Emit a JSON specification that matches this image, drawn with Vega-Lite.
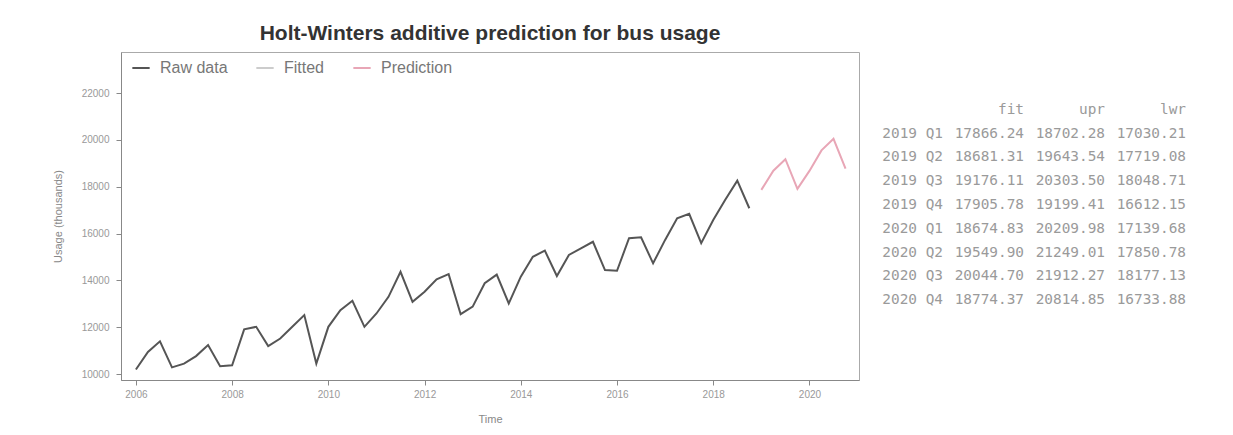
{
  "$schema": "https://vega.github.io/schema/vega-lite/v6.json",
  "background": "white",
  "padding": {"left": 51, "top": 22, "right": 5, "bottom": 5},
  "config": {"font": "Liberation Sans", "concat": {"spacing": 22}},
  "hconcat": [
    {
      "width": 738,
      "height": 328,
      "title": {"text": "Holt-Winters additive prediction for bus usage", "fontSize": 21, "fontWeight": "bold", "color": "#333333", "font": "Liberation Sans", "offset": 8, "anchor": "middle"},
      "view": {"stroke": "#aaaaaa"},
      "data": {"values": [
        {"t": 2006.0, "v": 10200, "series": "Raw data"},
        {"t": 2006.25, "v": 10950, "series": "Raw data"},
        {"t": 2006.5, "v": 11400, "series": "Raw data"},
        {"t": 2006.75, "v": 10290, "series": "Raw data"},
        {"t": 2007.0, "v": 10450, "series": "Raw data"},
        {"t": 2007.25, "v": 10770, "series": "Raw data"},
        {"t": 2007.5, "v": 11240, "series": "Raw data"},
        {"t": 2007.75, "v": 10340, "series": "Raw data"},
        {"t": 2008.0, "v": 10380, "series": "Raw data"},
        {"t": 2008.25, "v": 11910, "series": "Raw data"},
        {"t": 2008.5, "v": 12020, "series": "Raw data"},
        {"t": 2008.75, "v": 11200, "series": "Raw data"},
        {"t": 2009.0, "v": 11520, "series": "Raw data"},
        {"t": 2009.25, "v": 12020, "series": "Raw data"},
        {"t": 2009.5, "v": 12520, "series": "Raw data"},
        {"t": 2009.75, "v": 10450, "series": "Raw data"},
        {"t": 2010.0, "v": 12020, "series": "Raw data"},
        {"t": 2010.25, "v": 12730, "series": "Raw data"},
        {"t": 2010.5, "v": 13130, "series": "Raw data"},
        {"t": 2010.75, "v": 12020, "series": "Raw data"},
        {"t": 2011.0, "v": 12590, "series": "Raw data"},
        {"t": 2011.25, "v": 13300, "series": "Raw data"},
        {"t": 2011.5, "v": 14370, "series": "Raw data"},
        {"t": 2011.75, "v": 13090, "series": "Raw data"},
        {"t": 2012.0, "v": 13520, "series": "Raw data"},
        {"t": 2012.25, "v": 14050, "series": "Raw data"},
        {"t": 2012.5, "v": 14270, "series": "Raw data"},
        {"t": 2012.75, "v": 12560, "series": "Raw data"},
        {"t": 2013.0, "v": 12880, "series": "Raw data"},
        {"t": 2013.25, "v": 13880, "series": "Raw data"},
        {"t": 2013.5, "v": 14250, "series": "Raw data"},
        {"t": 2013.75, "v": 13020, "series": "Raw data"},
        {"t": 2014.0, "v": 14160, "series": "Raw data"},
        {"t": 2014.25, "v": 15010, "series": "Raw data"},
        {"t": 2014.5, "v": 15270, "series": "Raw data"},
        {"t": 2014.75, "v": 14190, "series": "Raw data"},
        {"t": 2015.0, "v": 15090, "series": "Raw data"},
        {"t": 2015.25, "v": 15370, "series": "Raw data"},
        {"t": 2015.5, "v": 15650, "series": "Raw data"},
        {"t": 2015.75, "v": 14440, "series": "Raw data"},
        {"t": 2016.0, "v": 14410, "series": "Raw data"},
        {"t": 2016.25, "v": 15800, "series": "Raw data"},
        {"t": 2016.5, "v": 15840, "series": "Raw data"},
        {"t": 2016.75, "v": 14730, "series": "Raw data"},
        {"t": 2017.0, "v": 15730, "series": "Raw data"},
        {"t": 2017.25, "v": 16650, "series": "Raw data"},
        {"t": 2017.5, "v": 16840, "series": "Raw data"},
        {"t": 2017.75, "v": 15590, "series": "Raw data"},
        {"t": 2018.0, "v": 16580, "series": "Raw data"},
        {"t": 2018.25, "v": 17440, "series": "Raw data"},
        {"t": 2018.5, "v": 18260, "series": "Raw data"},
        {"t": 2018.75, "v": 17080, "series": "Raw data"},
        {"t": 2019.0, "v": 17866.24, "series": "Prediction"},
        {"t": 2019.25, "v": 18681.31, "series": "Prediction"},
        {"t": 2019.5, "v": 19176.11, "series": "Prediction"},
        {"t": 2019.75, "v": 17905.78, "series": "Prediction"},
        {"t": 2020.0, "v": 18674.83, "series": "Prediction"},
        {"t": 2020.25, "v": 19549.9, "series": "Prediction"},
        {"t": 2020.5, "v": 20044.7, "series": "Prediction"},
        {"t": 2020.75, "v": 18774.37, "series": "Prediction"}
      ]},
      "mark": {"type": "line", "strokeWidth": 2},
      "encoding": {
        "x": {
          "field": "t", "type": "quantitative",
          "scale": {"domain": [2005.69, 2021.03], "nice": false, "zero": false},
          "axis": {
            "values": [2006, 2008, 2010, 2012, 2014, 2016, 2018, 2020], "format": "d",
            "grid": false, "domainColor": "#888888", "tickColor": "#888888", "tickSize": 5,
            "labelColor": "#999999", "labelFontSize": 10, "labelPadding": 4,
            "title": "Time", "titleColor": "#888888", "titleFontSize": 11, "titleFontWeight": "normal", "titlePadding": 14
          }
        },
        "y": {
          "field": "v", "type": "quantitative",
          "scale": {"domain": [9750, 23750], "nice": false, "zero": false},
          "axis": {
            "values": [10000, 12000, 14000, 16000, 18000, 20000, 22000], "format": "d",
            "grid": false, "domainColor": "#888888", "tickColor": "#888888", "tickSize": 5,
            "labelColor": "#999999", "labelFontSize": 10, "labelPadding": 7,
            "title": "Usage (thousands)", "titleColor": "#888888", "titleFontSize": 11, "titleFontWeight": "normal", "titlePadding": 18
          }
        },
        "color": {
          "field": "series", "type": "nominal",
          "scale": {"domain": ["Raw data", "Fitted", "Prediction"], "range": ["#555555", "#cccccc", "#e8a6b6"]},
          "legend": {
            "title": null, "orient": "none", "legendX": 10, "legendY": 6, "direction": "horizontal",
            "symbolType": "stroke", "symbolStrokeWidth": 2, "symbolSize": 300, "labelOffset": 9,
            "labelFontSize": 16, "labelColor": "#777777", "labelFont": "Liberation Sans", "columnPadding": 24
          }
        }
      }
    },
    {
      "width": 243,
      "height": 306,
      "view": {"stroke": null},
      "layer": [
        {
          "data": {"values": [
            {"period": "2019 Q1", "fit": 17866.24, "upr": 18702.28, "lwr": 17030.21},
            {"period": "2019 Q2", "fit": 18681.31, "upr": 19643.54, "lwr": 17719.08},
            {"period": "2019 Q3", "fit": 19176.11, "upr": 20303.5, "lwr": 18048.71},
            {"period": "2019 Q4", "fit": 17905.78, "upr": 19199.41, "lwr": 16612.15},
            {"period": "2020 Q1", "fit": 18674.83, "upr": 20209.98, "lwr": 17139.68},
            {"period": "2020 Q2", "fit": 19549.9, "upr": 21249.01, "lwr": 17850.78},
            {"period": "2020 Q3", "fit": 20044.7, "upr": 21912.27, "lwr": 18177.13},
            {"period": "2020 Q4", "fit": 18774.37, "upr": 20814.85, "lwr": 16733.88}
          ]},
          "layer": [
            {
              "mark": {"type": "text", "align": "right", "baseline": "middle", "font": "DejaVu Sans Mono", "fontSize": 14.4, "color": "#9a9a9a"},
              "encoding": {
                "x": {"datum": "period", "type": "nominal", "scale": {"type": "point", "domain": ["period", "fit", "upr", "lwr"], "padding": 0}, "axis": null},
                "y": {"field": "period", "type": "nominal", "scale": {"type": "point", "domain": ["hdr", "2019 Q1", "2019 Q2", "2019 Q3", "2019 Q4", "2020 Q1", "2020 Q2", "2020 Q3", "2020 Q4"], "range": [46, 260]}, "axis": null},
                "text": {"field": "period"}
              }
            },
            {
              "transform": [{"fold": ["fit", "upr", "lwr"], "as": ["col", "val"]}],
              "mark": {"type": "text", "align": "right", "baseline": "middle", "font": "DejaVu Sans Mono", "fontSize": 14.4, "color": "#9a9a9a"},
              "encoding": {
                "x": {"field": "col", "type": "nominal", "axis": null},
                "y": {"field": "period", "type": "nominal", "axis": null},
                "text": {"field": "val", "type": "quantitative", "format": ".2f"}
              }
            }
          ]
        },
        {
          "data": {"values": [{"col": "fit"}, {"col": "upr"}, {"col": "lwr"}]},
          "mark": {"type": "text", "align": "right", "baseline": "middle", "font": "DejaVu Sans Mono", "fontSize": 14.4, "color": "#9a9a9a"},
          "encoding": {
            "x": {"field": "col", "type": "nominal", "axis": null},
            "y": {"datum": "hdr", "type": "nominal", "axis": null},
            "text": {"field": "col"}
          }
        }
      ]
    }
  ]
}
